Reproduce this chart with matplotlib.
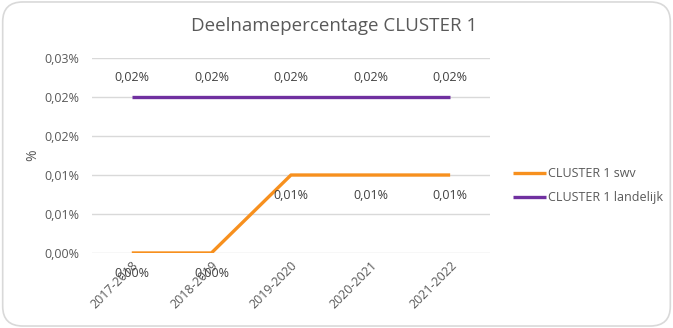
import matplotlib.pyplot as plt
import matplotlib.patches as patches
from matplotlib.ticker import FuncFormatter

# data (in percent)
jaren = ["2017-2018", "2018-2019", "2019-2020", "2020-2021", "2021-2022"]
swv = [0.0, 0.0, 0.01, 0.01, 0.01]
landelijk = [0.02, 0.02, 0.02, 0.02, 0.02]

oranje = '#F7901E'
paars = '#7030A0'
grijs = '#595959'

plt.rcParams['font.family'] = ['Open Sans', 'DejaVu Sans']

fig = plt.figure(figsize=(6.73, 3.28), dpi=100)
# afgeronde rand rond de grafiek
rand = patches.FancyBboxPatch((0.004, 0.006), 0.992, 0.988,
                              boxstyle='round,pad=0,rounding_size=0.03',
                              transform=fig.transFigure, facecolor='white',
                              edgecolor='#D9D9D9', linewidth=1.2, mutation_aspect=2, zorder=-10)
fig.patches.append(rand)

ax = fig.add_axes([0.1367, 0.2287, 0.5913, 0.5943])
ax.patch.set_alpha(0)
x = list(range(len(jaren)))
ax.plot(x, swv, color=oranje, lw=2.4, label='CLUSTER 1 swv', solid_capstyle='butt')
ax.plot(x, landelijk, color=paars, lw=2.4, label='CLUSTER 1 landelijk', solid_capstyle='butt')

# afronden zoals Excel (half naar boven)
fmt = lambda v: f"{round(v + 1e-9, 2):.2f}".replace('.', ',') + '%'
for i in x:
    ax.annotate(fmt(swv[i]), (i, swv[i]), xytext=(0, -15), textcoords='offset points',
                ha='center', va='center', fontsize=9, color='#404040')
    ax.annotate(fmt(landelijk[i]), (i, landelijk[i]), xytext=(0, 14), textcoords='offset points',
                ha='center', va='center', fontsize=9, color='#404040')

ax.set_xlim(-0.5, len(jaren) - 0.5)
ax.set_ylim(0, 0.025)
ax.set_yticks([0, 0.005, 0.01, 0.015, 0.02, 0.025])
ax.yaxis.set_major_formatter(FuncFormatter(lambda v, p: fmt(v)))
ax.set_xticks(x)
ax.set_xticklabels(jaren, rotation=45, ha='right', rotation_mode='anchor')
ax.tick_params(axis='both', length=0, colors=grijs, labelsize=9)
ax.tick_params(axis='y', pad=9)
ax.tick_params(axis='x', pad=4)
ax.grid(axis='y', color='#D9D9D9', lw=1)
ax.set_axisbelow(True)
for s in ax.spines.values():
    s.set_visible(False)
ax.set_ylabel('%', color=grijs, fontsize=10, labelpad=3)

fig.text(0.497, 0.921, 'Deelnamepercentage CLUSTER 1', ha='center', va='center',
         fontsize=13.5, color=grijs)

ax.legend(loc='center left', bbox_to_anchor=(1.03, 0.345), frameon=False, fontsize=9,
          labelcolor=grijs, handlelength=2.6, handletextpad=0.15, labelspacing=0.85)

fig.savefig('out.png', dpi=100)
